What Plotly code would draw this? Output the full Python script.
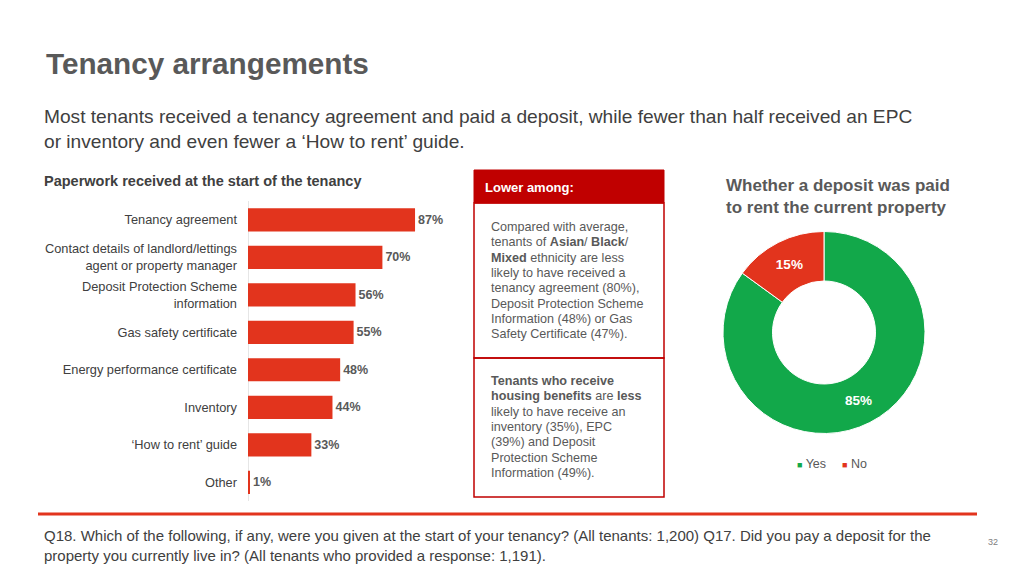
import plotly.graph_objects as go

# paperwork received at the start of the tenancy (%)
categories = [
    "Tenancy agreement",
    "Contact details of landlord/lettings<br>agent or property manager",
    "Deposit Protection Scheme<br>information",
    "Gas safety certificate",
    "Energy performance certificate",
    "Inventory",
    "\u2018How to rent\u2019 guide",
    "Other",
]
shares = [87, 70, 56, 55, 48, 44, 33, 1]

# whether a deposit was paid (%)
deposit_labels = ["Yes", "No"]
deposit_values = [85, 15]

W, H = 1024, 576
RED = "#E2341D"
GREEN = "#12A84A"
DARK_RED = "#C00000"
GREY = "#595959"
FONT = "Liberation Sans, Arial, sans-serif"


def px(x, y):
    return x / W, 1 - y / H


fig = go.Figure()

fig.add_trace(go.Bar(
    x=shares, y=categories, orientation="h",
    marker=dict(color=RED, line=dict(width=0)),
    texttemplate="<b>%{x}%</b>", textposition="outside",
    textfont=dict(size=12.5, color=GREY, family=FONT),
    cliponaxis=False, showlegend=False, width=0.62,
))

fig.add_trace(go.Pie(
    labels=deposit_labels, values=deposit_values,
    hole=0.51, sort=False, direction="clockwise", rotation=0,
    marker=dict(colors=[GREEN, RED], line=dict(color="white", width=1)),
    texttemplate="<b>%{value}%</b>", textposition="inside",
    insidetextfont=dict(size=13.5, color="white", family=FONT),
    domain=dict(x=[723 / W, 925 / W], y=[1 - 434 / H, 1 - 231 / H]),
    showlegend=False,
))

x0, _ = px(248, 0)
x1, _ = px(440, 0)
_, yb = px(0, 501)
_, yt = px(0, 201)

fig.update_layout(
    width=W, height=H,
    margin=dict(l=0, r=0, t=0, b=0),
    paper_bgcolor="white", plot_bgcolor="white",
    font=dict(family=FONT, color=GREY),
    bargap=0.38,
    xaxis=dict(domain=[x0, x1], range=[0, 100], visible=True,
               showgrid=False, showticklabels=False, zeroline=True,
               zerolinecolor="#E6E6E6", zerolinewidth=1, showline=False),
    yaxis=dict(domain=[yb, yt], autorange="reversed", showgrid=False,
               ticks="", ticklabelstandoff=10,
               tickfont=dict(size=12.8, color="#404040", family=FONT)),
)

shapes = []
# header box
hx0, hy0 = px(474, 170)
hx1, hy1 = px(664, 203)
shapes.append(dict(type="rect", xref="paper", yref="paper", x0=hx0, y0=hy1, x1=hx1, y1=hy0,
                   fillcolor=DARK_RED, line=dict(color=DARK_RED, width=1)))
for top, bot in [(203, 358), (358, 497)]:
    bx0, by0 = px(474, top)
    bx1, by1 = px(664, bot)
    shapes.append(dict(type="rect", xref="paper", yref="paper", x0=bx0, y0=by1, x1=bx1, y1=by0,
                       fillcolor="rgba(0,0,0,0)", line=dict(color=DARK_RED, width=1.5)))
# footer rule
lx0, ly = px(38, 514)
lx1, _ = px(977, 514)
shapes.append(dict(type="line", xref="paper", yref="paper", x0=lx0, y0=ly, x1=lx1, y1=ly,
                   line=dict(color=RED, width=3)))
fig.update_layout(shapes=shapes)


def note(x, y, text, size, color=GREY, bold=False, family=FONT, yanchor="top", xanchor="left"):
    ax, ay = px(x, y)
    if bold:
        text = f"<b>{text}</b>"
    fig.add_annotation(x=ax, y=ay, xref="paper", yref="paper", text=text,
                       showarrow=False, xanchor=xanchor, yanchor=yanchor,
                       align=xanchor if xanchor != "center" else "center",
                       font=dict(size=size, color=color, family=family))


def lines(x, y0, rows, size, step):
    # one annotation per line to keep the tight line spacing of the slide
    for i, row in enumerate(rows):
        note(x, y0 + i * step, row, size, yanchor="middle")


note(44, 45, "Tenancy arrangements", 29.7, bold=True)
note(42, 104, "Most tenants received a tenancy agreement and paid a deposit, while fewer than half received an EPC<br>"
     "or inventory and even fewer a \u2018How to rent\u2019 guide.", 19.15, color="#404040")
note(42, 171, "Paperwork received at the start of the tenancy", 14.5, color="#404040", bold=True)
note(483, 187, "Lower among:", 13, color="white", bold=True, yanchor="middle")
lines(489, 227, [
    "Compared with average,",
    "tenants of <b>Asian</b>/ <b>Black</b>/",
    "<b>Mixed</b> ethnicity are less",
    "likely to have received a",
    "tenancy agreement (80%),",
    "Deposit Protection Scheme",
    "Information (48%) or Gas",
    "Safety Certificate (47%).",
], 12.6, 15.3)
lines(489, 381, [
    "<b>Tenants who receive</b>",
    "<b>housing benefits</b> are <b>less</b>",
    "likely to have receive an",
    "inventory (35%), EPC",
    "(39%) and Deposit",
    "Protection Scheme",
    "Information (49%).",
], 12.6, 15.35)
note(724, 174, "Whether a deposit was paid<br>to rent the current property", 17, bold=True)

# legend for the donut
for lab, col, lx in [(deposit_labels[0], GREEN, 795), (deposit_labels[1], RED, 840)]:
    note(lx, 464, f"<span style='color:{col};font-size:9px'>\u25A0</span> {lab}", 12.5, yanchor="middle")

note(42, 525, "Q18. Which of the following, if any, were you given at the start of your tenancy? (All tenants: 1,200) "
     "Q17. Did you pay a deposit for the<br>property you currently live in? (All tenants who provided a response: 1,191).",
     15, color="#404040")
note(993, 542, "32", 9, color="#808080", yanchor="middle", xanchor="center")

fig.write_html("out.html", config={"displayModeBar": False},
               post_script="document.body.style.margin='0';")
